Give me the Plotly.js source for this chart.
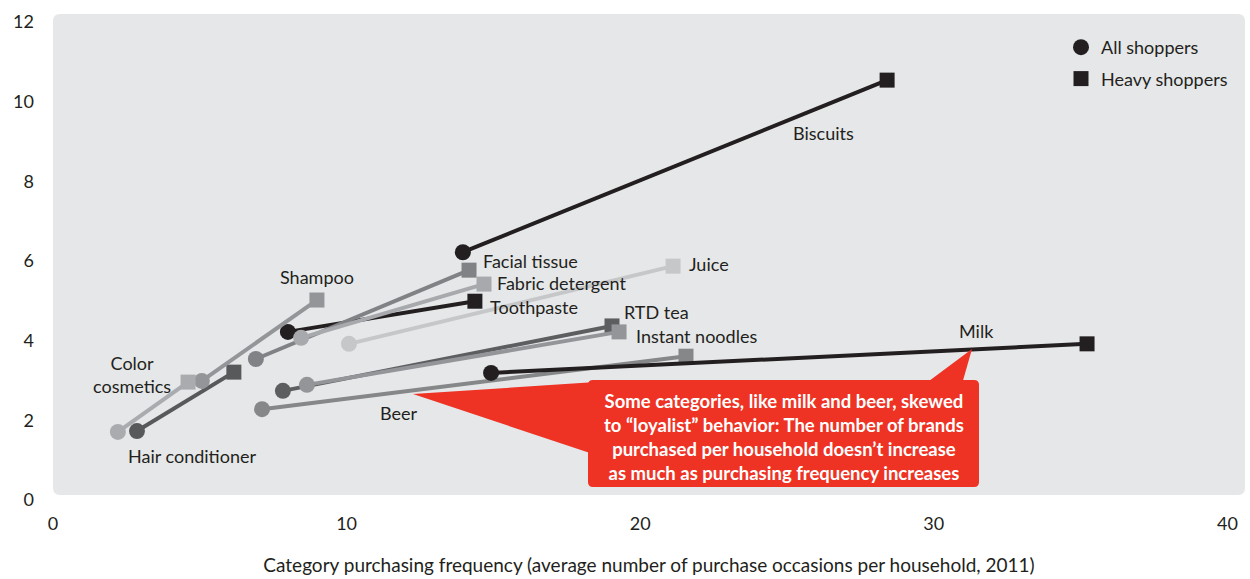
<!DOCTYPE html>
<html>
<head>
<meta charset="utf-8">
<script src="https://cdn.plot.ly/plotly-3.0.1.min.js"></script>
<style>
  html, body { margin: 0; padding: 0; background: #ffffff; }
  #chart { width: 1250px; height: 579px; }
</style>
</head>
<body>
<div id="chart"></div>
<script>
// Product categories, each with an "all shoppers" and a "heavy shoppers" point
const categories = [
  'Biscuits', 'Toothpaste', 'Hair conditioner', 'RTD tea', 'Facial tissue', 'Beer',
  'Milk', 'Shampoo', 'Instant noodles', 'Fabric detergent', 'Color cosmetics', 'Juice'
];
// Purchase frequency (occasions per household, 2011)
const allShoppersFreq   = [13.96, 8.00, 2.86, 7.83, 6.91, 7.12, 14.92, 5.07, 8.65, 8.45, 2.21, 10.08];
const heavyShoppersFreq = [28.41, 14.37, 6.16, 19.04, 14.17, 21.56, 35.22, 8.99, 19.28, 14.68, 4.60, 21.12];
// Number of brands purchased per household
const allShoppersBrands   = [6.22, 4.22, 1.73, 2.74, 3.54, 2.28, 3.19, 2.99, 2.89, 4.07, 1.71, 3.92];
const heavyShoppersBrands = [10.54, 4.99, 3.21, 4.37, 5.77, 3.61, 3.92, 5.02, 4.22, 5.42, 2.96, 5.87];

const xTicks = [0, 10, 20, 30, 40];
const yTicks = [0, 2, 4, 6, 8, 10, 12];
const seriesNames = ['All shoppers', 'Heavy shoppers'];
const xTitle = 'Category purchasing frequency (average number of purchase occasions per household, 2011)';
const calloutText = 'Some categories, like milk and beer, skewed<br>to \u201cloyalist\u201d behavior: The number of brands<br>purchased per household doesn\u2019t increase<br>as much as purchasing frequency increases';

// ---- styling ----
const INK = '#231f20';
const lineColor = {
  'Biscuits': INK, 'Toothpaste': INK, 'Milk': INK,
  'Hair conditioner': '#58595b', 'RTD tea': '#5d5e60',
  'Facial tissue': '#808285', 'Beer': '#868789',
  'Shampoo': '#939598', 'Instant noodles': '#939598',
  'Fabric detergent': '#a7a9ac', 'Color cosmetics': '#a9abae',
  'Juice': '#c6c7c9'
};
// label placement: anchor point ('all' or 'heavy'), pixel shift, text anchor
const labelPlace = {
  'Biscuits':        {at: 'heavy', dx: -64, dy: -53, anchor: 'center'},
  'Facial tissue':   {at: 'heavy', dx: 12,  dy: 9,   anchor: 'left'},
  'Fabric detergent':{at: 'heavy', dx: 11,  dy: 1,   anchor: 'left'},
  'Toothpaste':      {at: 'heavy', dx: 13,  dy: -6,  anchor: 'left'},
  'Juice':           {at: 'heavy', dx: 14,  dy: 2,   anchor: 'left'},
  'RTD tea':         {at: 'heavy', dx: 10,  dy: 14,  anchor: 'left'},
  'Instant noodles': {at: 'heavy', dx: 15,  dy: -4,  anchor: 'left'},
  'Milk':            {at: 'heavy', dx: -111,dy: 13,  anchor: 'center'},
  'Beer':            {at: 'all',   dx: 137, dy: -4,  anchor: 'center'},
  'Shampoo':         {at: 'heavy', dx: 0,   dy: 23,  anchor: 'center'},
  'Color cosmetics': {at: 'heavy', dx: -56, dy: 8,   anchor: 'center', text: 'Color<br>cosmetics'},
  'Hair conditioner':{at: 'all',   dx: 55,  dy: -25, anchor: 'center'}
};

const FONT = 'Lato, "Open Sans", sans-serif';
const FS = 18;
const W = 1250, H = 579;
const M = {l: 53, r: 5, t: 14, b: 79};
const X_MAX = 40.6, Y_MAX = 12.2;
const plotW = W - M.l - M.r, plotH = H - M.t - M.b;
// page pixel -> data coordinate helpers for the decorative panels
const px2x = p => (p - M.l) / plotW * X_MAX;
const py2y = p => (H - M.b - p) / plotH * Y_MAX;

const traces = categories.map((c, i) => ({
  type: 'scatter',
  mode: 'lines+markers',
  x: [allShoppersFreq[i], heavyShoppersFreq[i]],
  y: [allShoppersBrands[i], heavyShoppersBrands[i]],
  line: {color: lineColor[c], width: 4},
  marker: {symbol: ['circle', 'square'], size: [16, 15], color: lineColor[c],
           opacity: 1, line: {width: 0}},
  showlegend: false,
  hoverinfo: 'skip',
  name: c
}));

// legend entries
traces.push({
  type: 'scatter', mode: 'markers', x: [null], y: [null], name: seriesNames[0],
  marker: {symbol: 'circle', size: 16, color: INK, opacity: 1}, legendgroup: 'g1', showlegend: true
});
traces.push({
  type: 'scatter', mode: 'markers', x: [null], y: [null], name: seriesNames[1],
  marker: {symbol: 'square', size: 15, color: INK, opacity: 1}, legendgroup: 'g2', showlegend: true
});

const annotations = categories.map((c, i) => {
  const p = labelPlace[c];
  const heavy = p.at === 'heavy';
  return {
    x: heavy ? heavyShoppersFreq[i] : allShoppersFreq[i],
    y: heavy ? heavyShoppersBrands[i] : allShoppersBrands[i],
    xref: 'x', yref: 'y',
    text: p.text || c,
    showarrow: false,
    xanchor: p.anchor, yanchor: 'middle',
    xshift: p.dx, yshift: p.dy,
    align: 'center',
    font: {family: FONT, size: FS, color: INK}
  };
});

// callout text
annotations.push({
  x: px2x(784), y: py2y(437), xref: 'x', yref: 'y',
  text: calloutText, showarrow: false,
  xanchor: 'center', yanchor: 'middle', align: 'center',
  font: {family: FONT, size: 18.5, color: '#ffffff', weight: 'bold'}
});

function roundRect(x0, y0, x1, y1, r) {
  // pixel rectangle with rounded corners, returned as a data-space path
  const P = (a, b) => px2x(a) + ',' + py2y(b);
  return 'M' + P(x0 + r, y0) + ' L' + P(x1 - r, y0) + ' Q' + P(x1, y0) + ' ' + P(x1, y0 + r) +
         ' L' + P(x1, y1 - r) + ' Q' + P(x1, y1) + ' ' + P(x1 - r, y1) +
         ' L' + P(x0 + r, y1) + ' Q' + P(x0, y1) + ' ' + P(x0, y1 - r) +
         ' L' + P(x0, y0 + r) + ' Q' + P(x0, y0) + ' ' + P(x0 + r, y0) + ' Z';
}
function tri(a, b, c) {
  const P = q => px2x(q[0]) + ',' + py2y(q[1]);
  return 'M' + P(a) + ' L' + P(b) + ' L' + P(c) + ' Z';
}
const RED = '#ee3224';
const shapes = [
  {type: 'path', path: roundRect(53, 14, 1245, 495, 7), xref: 'x', yref: 'y',
   fillcolor: '#e6e7e8', line: {width: 0}, layer: 'below'},
  {type: 'path', path: roundRect(588, 380, 979, 487, 5), xref: 'x', yref: 'y',
   fillcolor: RED, line: {width: 0}, layer: 'above'},
  {type: 'path', path: tri([413, 394], [596, 382], [596, 455]), xref: 'x', yref: 'y',
   fillcolor: RED, line: {width: 0}, layer: 'above'},
  {type: 'path', path: tri([925, 384], [962, 384], [972, 349]), xref: 'x', yref: 'y',
   fillcolor: RED, line: {width: 0}, layer: 'above'}
];

const layout = {
  width: W, height: H,
  margin: M,
  paper_bgcolor: '#ffffff',
  plot_bgcolor: 'rgba(0,0,0,0)',
  font: {family: FONT, size: FS, color: INK},
  showlegend: true,
  legend: {
    x: (1061 - M.l) / plotW, y: (H - M.b - 29) / plotH,
    xanchor: 'left', yanchor: 'top',
    bgcolor: 'rgba(0,0,0,0)', borderwidth: 0,
    tracegroupgap: 5,
    font: {family: FONT, size: FS, color: INK}
  },
  xaxis: {
    range: [0, X_MAX], tickvals: xTicks, ticktext: xTicks.map(String),
    showgrid: false, zeroline: false, showline: false, ticks: '',
    tickfont: {family: FONT, size: FS, color: INK},
    ticklabelstandoff: 11,
    title: {text: xTitle, font: {family: FONT, size: 19, color: INK}, standoff: 25},
    fixedrange: true
  },
  yaxis: {
    range: [0, Y_MAX], tickvals: yTicks, ticktext: yTicks.map(String),
    showgrid: false, zeroline: false, showline: false, ticks: '',
    tickfont: {family: FONT, size: FS, color: INK},
    ticklabelstandoff: 18,
    fixedrange: true
  },
  shapes: shapes,
  annotations: annotations
};

Plotly.newPlot('chart', traces, layout, {displayModeBar: false, staticPlot: true});
</script>
</body>
</html>
